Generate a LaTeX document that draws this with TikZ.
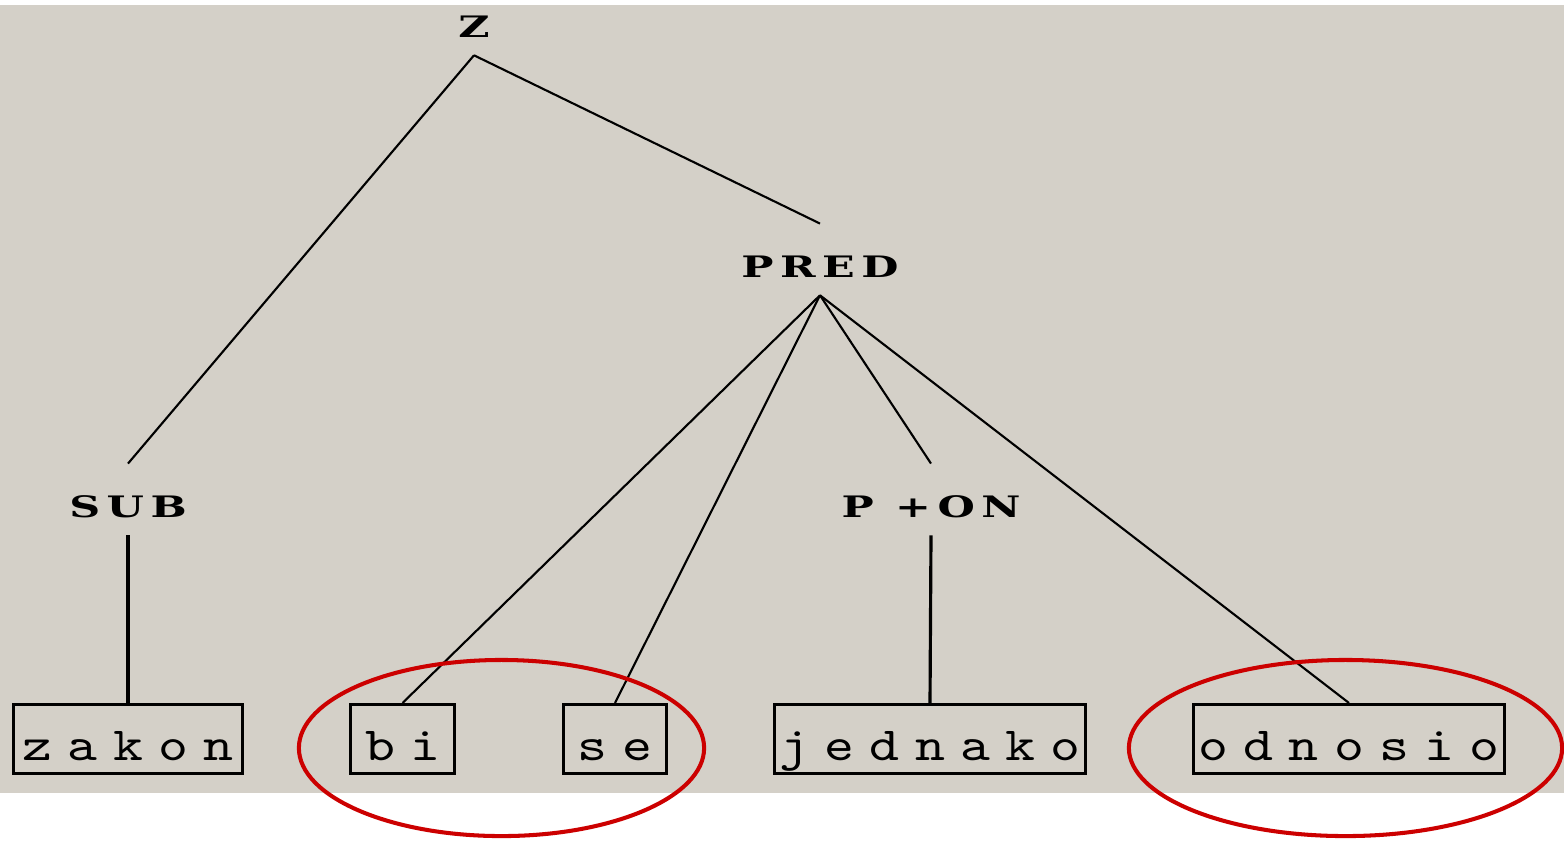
\documentclass[tikz,border=0pt]{standalone}
\usepackage{fontspec}
\newfontfamily\catfont{DejaVu Serif}[FakeStretch=1.45,LetterSpace=22]
\newfontfamily\leaffont{lmmono10-regular.otf}[FakeStretch=1.2,LetterSpace=32]
\definecolor{panel}{HTML}{D4D0C8}
\definecolor{mark}{HTML}{CC0000}
\begin{document}
\begin{tikzpicture}[x=0.01cm,y=-0.01cm,
  cat/.style={inner sep=0pt,text height=15pt,text depth=5pt,anchor=base,font=\catfont\bfseries\fontsize{8.4}{10}\selectfont},
  word/.style={draw,line width=0.85pt,inner sep=0pt,text height=15.8pt,text depth=3.84pt,minimum width=#1,font=\leaffont\fontsize{13.5}{16}\selectfont},
  branch/.style={line width=0.6pt},
  stem/.style={line width=0.9pt},
  ring/.style={draw=mark,line width=1.15pt}]
\fill[white] (0,0) rectangle (1564,841);
\useasboundingbox (0,0) rectangle (1564,841);
\fill[panel] (0,5) rectangle (1564,793);
\node[cat] (z) at (474,37) {Z};
\node[cat] (pred) at (820,277) {PRED};
\node[cat] (sub) at (128,517) {SUB};
\node[cat] (pon) at (931,517) {P +ON};
\node[word=2.28cm] (zakon) at (128,739) {zakon};
\node[word=1.04cm] (bi) at (402.5,739) {bi};
\node[word=1.03cm] (se) at (615,739) {se};
\node[word=3.11cm] (jednako) at (930,739) {jednako};
\node[word=3.11cm] (odnosio) at (1349,739) {odnosio};
\draw[branch] (z.south) -- (sub.north);
\draw[branch] (z.south) -- (pred.north);
\draw[branch] (pred.south) -- (pon.north);
\foreach \w in {bi,se,odnosio}
  \draw[branch] (pred.south) -- (\w.north);
\draw[stem] (sub.south) -- (zakon.north);
\draw[stem] (pon.south) -- (jednako.north);
\draw[ring] (501.5,748) ellipse [x radius=2.025cm, y radius=0.88cm];
\draw[ring] (1345.5,748) ellipse [x radius=2.165cm, y radius=0.88cm];
\end{tikzpicture}
\end{document}
